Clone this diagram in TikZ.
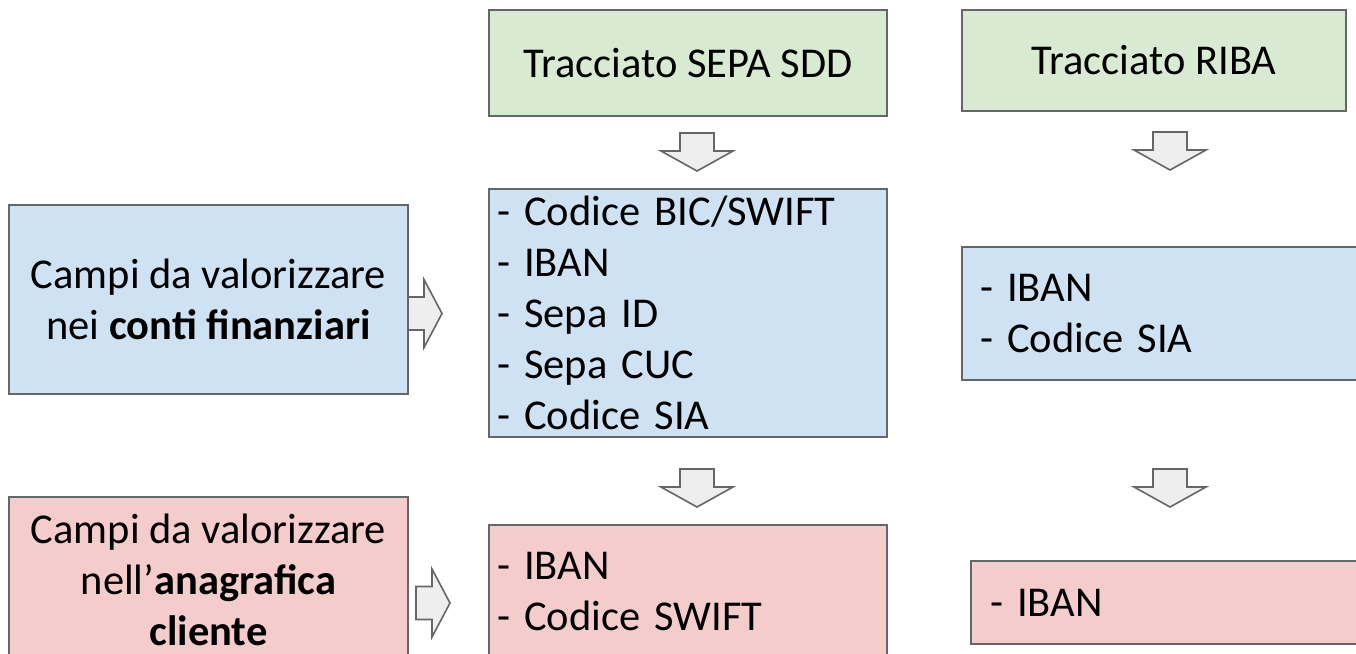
\documentclass[tikz,border=0pt]{standalone}
\usepackage{fontspec}
\setmainfont{Carlito}
\definecolor{gfill}{HTML}{D9EAD3}
\definecolor{bfill}{HTML}{CFE2F3}
\definecolor{pfill}{HTML}{F4CCCC}
\definecolor{edgecol}{HTML}{666666}
\definecolor{afill}{HTML}{EEEEEE}
\begin{document}
\begin{tikzpicture}[x=1pt,y=-1pt,
  box/.style={draw=edgecol, line width=1.4pt, rectangle, inner sep=0pt,
    font=\fontsize{42.5pt}{51pt}\selectfont},
  arrowshape/.style={draw=edgecol, fill=afill, line width=1.6pt, line join=miter},
  downarr/.pic={\draw[arrowshape] (-17,0) -- (17,0) -- (17,18) -- (36,18) -- (0,38) -- (-36,18) -- (-17,18) -- cycle;},
  rightarr/.pic={\draw[arrowshape] (0,-16.5) -- (16,-16.5) -- (16,-34) -- (34,0) -- (16,34) -- (16,16.5) -- (0,16.5) -- cycle;}
]
\clip (0,0) rectangle (1356,653);
\fill[white] (0,0) rectangle (1356,653);

% headers
\node[box, fill=gfill, minimum width=398pt, minimum height=106pt] (sepaH) at (688,63) {Tracciato SEPA SDD};
\node[box, fill=gfill, minimum width=384pt, minimum height=101pt] (ribaH) at (1154,60.5) {Tracciato RIBA};

% blue row
\node[box, fill=bfill, minimum width=399pt, minimum height=189pt, align=center] (campiB) at (208.5,299.5)
  {Campi da valorizzare\\nei \textbf{conti finanziari}};
\node[box, fill=bfill, minimum width=398pt, minimum height=248pt, text width=382pt, align=left] (sepaB) at (688,313)
  {- Codice BIC/SWIFT\\- IBAN\\- Sepa ID\\- Sepa CUC\\- Codice SIA};
\node[box, fill=bfill, minimum width=414pt, minimum height=133pt, text width=378pt, align=left] (ribaB) at (1169,313.5)
  {- IBAN\\- Codice SIA};

% pink row
\node[box, fill=pfill, minimum width=399pt, minimum height=166pt, align=center] (campiP) at (208.5,580)
  {Campi da valorizzare\\nell’\textbf{anagrafica}\\\textbf{cliente}};
\node[box, fill=pfill, minimum width=398pt, minimum height=134pt, text width=382pt, align=left] (sepaP) at (688,592)
  {- IBAN\\- Codice SWIFT};
\node[box, fill=pfill, minimum width=405pt, minimum height=83pt, text width=367pt, align=left] (ribaP) at (1173.5,602.5)
  {- IBAN};

% block arrows
\pic at (697,133) {downarr};
\pic at (1170,132) {downarr};
\pic at (697,469) {downarr};
\pic at (1170,469) {downarr};
\pic at (408,313.5) {rightarr};
\pic at (416,603) {rightarr};
\end{tikzpicture}
\end{document}
